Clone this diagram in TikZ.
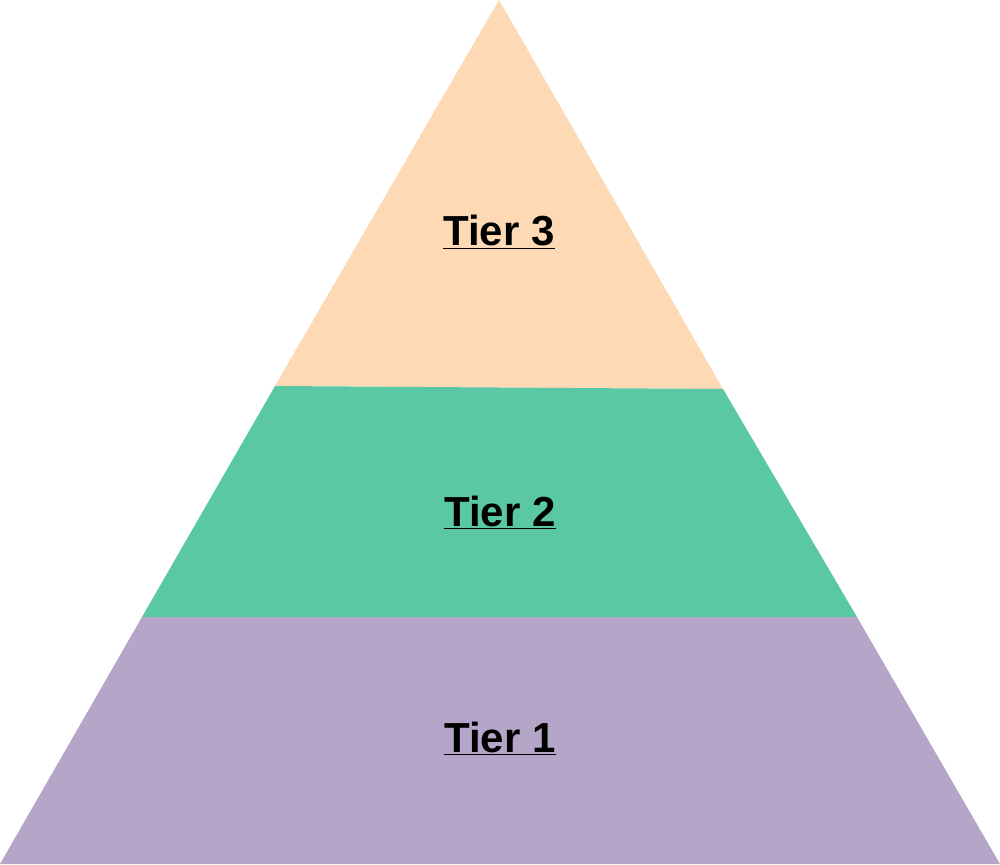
\documentclass[tikz,border=0pt]{standalone}
\usepackage{fontspec}
\setmainfont{Liberation Sans}
\definecolor{peach}{HTML}{FDDAB5}
\definecolor{mint}{HTML}{5AC8A5}
\definecolor{lilac}{HTML}{B5A5C8}
\begin{document}
\begin{tikzpicture}[x=1pt,y=-1pt,
  tierlabel/.style={font=\fontsize{42}{50}\selectfont\bfseries, text=black}]
\useasboundingbox (0,0) rectangle (1000,864);
\fill[peach] (499,0) -- (723,389) -- (275,386) -- cycle;
\fill[mint] (275,386) -- (723,389) -- (857,617) -- (142,617) -- cycle;
\fill[lilac] (142,617) -- (857,617) -- (1000,864) -- (0,864) -- cycle;
\node[tierlabel] (t3) at (499,232) {\underline{Tier 3}};
\node[tierlabel] (t2) at (500,512) {\underline{Tier 2}};
\node[tierlabel] (t1) at (500,738) {\underline{Tier 1}};
\end{tikzpicture}
\end{document}
